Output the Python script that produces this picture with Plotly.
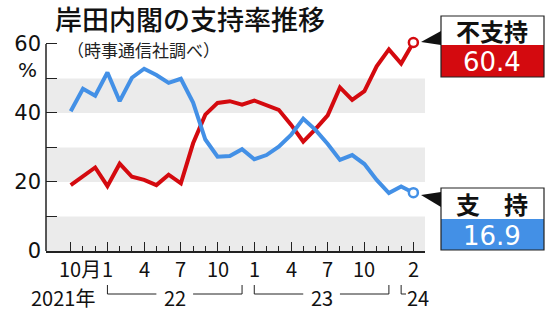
import plotly.graph_objects as go

# ---- data (monthly, Oct 2021 = index 0 ... Feb 2024 = index 28) ----
months = list(range(29))
support = [40.5, 47.0, 45.0, 51.7, 43.4, 50.2, 52.8, 51.0, 48.7, 49.9,
           43.0, 32.3, 27.3, 27.5, 29.5, 26.6, 27.8, 30.2, 33.6, 38.3,
           35.1, 31.0, 26.4, 27.8, 25.2, 20.6, 16.8, 18.7, 16.9]
disapproval = [19.1, 21.5, 24.2, 18.8, 25.3, 21.5, 20.6, 19.1, 22.1, 19.6,
               31.2, 39.5, 42.9, 43.4, 42.4, 43.6, 42.4, 40.9, 36.6, 31.7,
               35.3, 39.3, 47.4, 43.8, 46.3, 53.5, 58.4, 54.3, 60.4]
x_tick_pos = [0, 3, 6, 9, 12, 15, 18, 21, 24, 28]
x_tick_text = ['10月', '1', '4', '7', '10', '1', '4', '7', '10', '2']
y_tick_vals = [0, 10, 20, 30, 40, 50, 60]
y_tick_text = ['0', '', '20', '', '40', '', '60']
band_ranges = [(0, 10), (20, 30), (40, 50)]
year_labels = [('22', 3, 14), ('23', 15, 26)]

RED = '#d40a0f'
BLUE = '#4390e6'
FONT = 'Noto Sans CJK JP'
NUMFONT = 'DejaVu Sans'

W, H = 552, 312
L, R, T, B = 46, 127, 37, 61
PW, PH = W - L - R, H - T - B


def px2x(px):
    return (px - L) / PW


def py2y(py):
    return (H - B - py) / PH


fig = go.Figure()
fig.add_trace(go.Scatter(x=months, y=disapproval, mode='lines',
                         line=dict(color=RED, width=4), hoverinfo='skip'))
fig.add_trace(go.Scatter(x=months, y=support, mode='lines',
                         line=dict(color=BLUE, width=4), hoverinfo='skip'))
fig.add_trace(go.Scatter(x=[months[-1]], y=[disapproval[-1]], mode='markers',
                         marker=dict(size=9, color='white', line=dict(color=RED, width=2.5)),
                         cliponaxis=False, hoverinfo='skip'))
fig.add_trace(go.Scatter(x=[months[-1]], y=[support[-1]], mode='markers',
                         marker=dict(size=9, color='white', line=dict(color=BLUE, width=2.5)),
                         cliponaxis=False, hoverinfo='skip'))

shapes = []
for lo, hi in band_ranges:
    shapes.append(dict(type='rect', xref='paper', yref='y', x0=0, x1=1, y0=lo, y1=hi,
                       fillcolor='#ebebeb', line=dict(width=0), layer='below'))
# y axis line up to 60
shapes.append(dict(type='line', xref='paper', yref='y', x0=0, x1=0, y0=0, y1=60,
                   line=dict(color='#222', width=1.5)))

# year brackets
yt, yb = py2y(285), py2y(294)
for lab, a, b in year_labels:
    mid = (a + b) / 2
    shapes += [
        dict(type='line', xref='x', yref='paper', x0=a, x1=a, y0=yt, y1=yb, line=dict(color='#222', width=1)),
        dict(type='line', xref='x', yref='paper', x0=a, x1=mid - 1.5, y0=yb, y1=yb, line=dict(color='#222', width=1)),
        dict(type='line', xref='x', yref='paper', x0=mid + 1.5, x1=b, y0=yb, y1=yb, line=dict(color='#222', width=1)),
        dict(type='line', xref='x', yref='paper', x0=b, x1=b, y0=yt, y1=yb, line=dict(color='#222', width=1)),
    ]
shapes += [
    dict(type='line', xref='x', yref='paper', x0=27, x1=27, y0=yt, y1=yb, line=dict(color='#222', width=1)),
    dict(type='line', xref='x', yref='paper', x0=27, x1=27.4, y0=yb, y1=yb, line=dict(color='#222', width=1)),
]


def path(points):
    s = 'M ' + ' L '.join(f'{px2x(a):.5f},{py2y(b):.5f}' for a, b in points) + ' Z'
    return s


# label boxes
for (top, mid, bot, col) in [(16, 45, 77, RED), (188, 219, 250, BLUE)]:
    shapes.append(dict(type='rect', xref='paper', yref='paper', x0=px2x(441), x1=px2x(544),
                       y0=py2y(mid), y1=py2y(bot), fillcolor=col, line=dict(width=0)))
    shapes.append(dict(type='rect', xref='paper', yref='paper', x0=px2x(441), x1=px2x(544),
                       y0=py2y(top), y1=py2y(bot), fillcolor='rgba(0,0,0,0)',
                       line=dict(color='#222', width=1.2)))
shapes.append(dict(type='path', xref='paper', yref='paper', path=path([(421, 42), (441, 31), (441, 45)]),
                   fillcolor='#111', line=dict(width=0)))
shapes.append(dict(type='path', xref='paper', yref='paper', path=path([(421, 195), (441, 192), (441, 207)]),
                   fillcolor='#111', line=dict(width=0)))

TF = dict(size=20, color='#111', family=FONT)
ROW1, ROW2 = 268, 297
ann = []
for pos, txt in zip(x_tick_pos, x_tick_text):
    if txt == '10月':
        ann.append(dict(x=pos, y=py2y(ROW1), xref='x', yref='paper', text=txt, showarrow=False, borderpad=0,
                        xanchor='left', xshift=-13, yanchor='middle', font=TF))
    else:
        ann.append(dict(x=pos, y=py2y(ROW1), xref='x', yref='paper', text=txt, showarrow=False, borderpad=0,
                        xanchor='center', yanchor='middle', font=TF))
ann.append(dict(x=px2x(96), y=py2y(ROW2), xref='paper', yref='paper', text='2021年', showarrow=False, borderpad=0,
                xanchor='right', yanchor='middle', font=TF))
for lab, a, b in year_labels:
    ann.append(dict(x=(a + b) / 2, y=py2y(ROW2), xref='x', yref='paper', text=lab, showarrow=False, borderpad=0,
                    xanchor='center', yanchor='middle', font=TF))
ann.append(dict(x=27.4, y=py2y(ROW2), xref='x', yref='paper', text='24', showarrow=False, borderpad=0,
                xanchor='left', yanchor='middle', font=TF))
ann.append(dict(x=px2x(27), y=py2y(69.5), xref='paper', yref='paper', text='%', showarrow=False, borderpad=0,
                xanchor='center', yanchor='middle', font=dict(size=20, color='#111', family=NUMFONT)))
ann.append(dict(x=px2x(54), y=py2y(18.5), xref='paper', yref='paper', text='岸田内閣の支持率推移', showarrow=False,
                borderpad=0, xanchor='left', yanchor='middle', height=32,
                font=dict(size=27, color='#111', family=FONT, weight=500)))
ann.append(dict(x=px2x(66), y=py2y(49), xref='paper', yref='paper', text='（時事通信社調べ）', showarrow=False,
                borderpad=0, xanchor='left', yanchor='middle', height=20,
                font=dict(size=17, color='#222', family=FONT)))
ann.append(dict(x=px2x(492.5), y=py2y(30), xref='paper', yref='paper', text='<b>不支持</b>', showarrow=False,
                borderpad=0, xanchor='center', yanchor='middle', height=27,
                font=dict(size=24, color='#111', family=FONT)))
ann.append(dict(x=px2x(492.5), y=py2y(62), xref='paper', yref='paper', text=f'{disapproval[-1]:.1f}', showarrow=False,
                borderpad=0, xanchor='center', yanchor='middle', height=29,
                font=dict(size=26, color='white', family=NUMFONT)))
ann.append(dict(x=px2x(492.5), y=py2y(203), xref='paper', yref='paper', text='<b>支　持</b>', showarrow=False,
                borderpad=0, xanchor='center', yanchor='middle', height=27,
                font=dict(size=24, color='#111', family=FONT)))
ann.append(dict(x=px2x(492.5), y=py2y(235), xref='paper', yref='paper', text=f'{support[-1]:.1f}', showarrow=False,
                borderpad=0, xanchor='center', yanchor='middle', height=29,
                font=dict(size=26, color='white', family=NUMFONT)))

fig.update_layout(
    width=W, height=H,
    margin=dict(l=L, r=R, t=T, b=B, pad=0),
    paper_bgcolor='white', plot_bgcolor='white',
    showlegend=False,
    font=dict(family=FONT, color='#111'),
    shapes=shapes, annotations=ann,
    xaxis=dict(range=[-2.02, 28.95], showgrid=False, zeroline=False,
               showline=True, linecolor='#222', linewidth=1.5,
               ticks='inside', ticklen=9, tickwidth=1, tickcolor='#222',
               tickmode='array', tickvals=x_tick_pos, showticklabels=False,
               minor=dict(tickmode='array', tickvals=months, ticks='inside', ticklen=5,
                          tickwidth=1, tickcolor='#222')),
    yaxis=dict(range=[0, 62], showgrid=False, zeroline=False, showline=False,
               ticks='inside', ticklen=11, tickwidth=1, tickcolor='#222',
               tickmode='array', tickvals=y_tick_vals, ticktext=y_tick_text,
               tickfont=dict(size=21, color='#111', family=NUMFONT), ticklabelstandoff=4),
)

fig.write_html('out.html')
